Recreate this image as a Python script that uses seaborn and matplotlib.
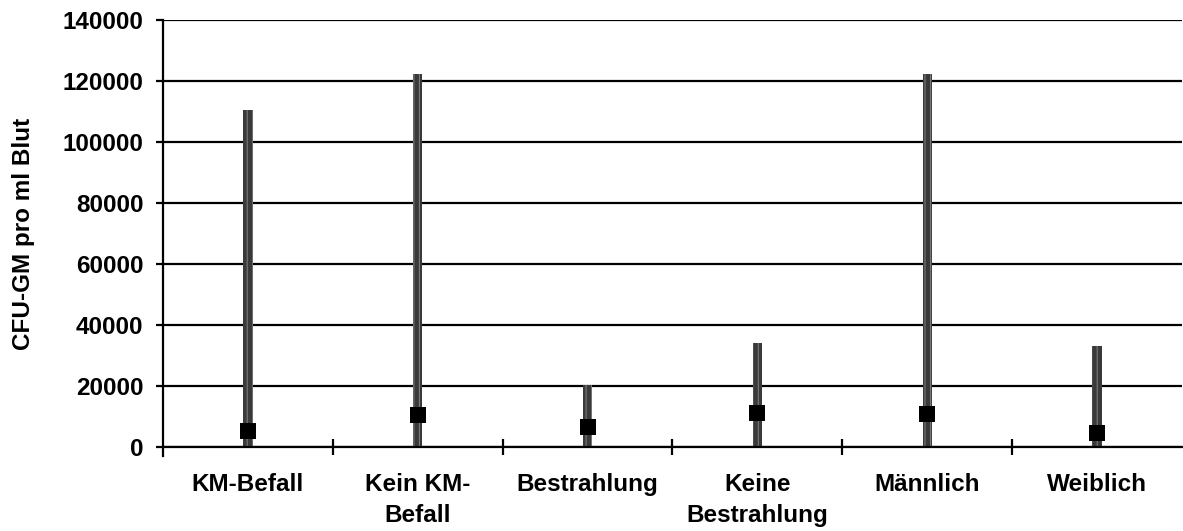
import matplotlib
matplotlib.use("Agg")
import matplotlib.pyplot as plt
import numpy as np
import seaborn as sns

# categories and values (CFU-GM per ml blood): range max and median
categories = ["KM-Befall", "Kein KM-\nBefall", "Bestrahlung", "Keine\nBestrahlung", "Männlich", "Weiblich"]
maxima = [110500, 122300, 20200, 34000, 122300, 33000]
medians = [5300, 10500, 6600, 11000, 10800, 4600]

sns.set_style("white")
plt.rcParams["font.family"] = ["Liberation Sans", "DejaVu Sans"]
plt.rcParams["text.color"] = "black"
plt.rcParams["axes.labelcolor"] = "black"
plt.rcParams["xtick.color"] = "black"
plt.rcParams["ytick.color"] = "black"
plt.rcParams["hatch.linewidth"] = 0.8

fig = plt.figure(figsize=(11.83, 5.31), dpi=100)
ax = fig.add_axes([163 / 1183, 84 / 531, 1019 / 1183, 427 / 531])

x = np.arange(len(categories))

# gridlines first
ax.set_ylim(0, 140000)
ax.set_yticks(np.arange(0, 140001, 20000))
ax.yaxis.grid(True, color="black", linewidth=1.6)
ax.set_axisbelow(True)

sns.barplot(x=x, y=maxima, ax=ax, width=0.055, color="#3a3a3a",
            saturation=1, edgecolor="#7a7a7a", linewidth=0, hatch="|||", native_scale=True)
sns.scatterplot(x=x, y=medians, ax=ax, marker="s", s=130, color="black",
                edgecolor="black", linewidth=0, zorder=5)

fs = 17.5
ax.set_xlim(-0.5, len(categories) - 0.5)
ax.set_xticks(x)
ax.set_xticklabels(categories, fontsize=fs, fontweight="bold", linespacing=1.45)
ax.tick_params(axis="x", which="major", length=0, pad=19)
ax.set_xticks(np.arange(0.5, len(categories) - 0.5, 1), minor=True)
ax.tick_params(axis="x", which="minor", direction="inout", length=12, width=1.6,
               color="black", bottom=True)

ax.set_yticklabels([str(v) for v in range(0, 140001, 20000)], fontsize=fs, fontweight="bold")
ax.tick_params(axis="y", direction="out", length=5, width=1.6, color="black", pad=9, left=True)
ax.set_ylabel("CFU-GM pro ml Blut", fontsize=fs, fontweight="bold", labelpad=20)
ax.set_xlabel("")

for side in ["top", "right"]:
    ax.spines[side].set_visible(False)
for side in ["left", "bottom"]:
    ax.spines[side].set_color("black")
    ax.spines[side].set_linewidth(1.6)
ax.spines["left"].set_bounds(-3000, 140000)

fig.savefig("out.png", dpi=100)
